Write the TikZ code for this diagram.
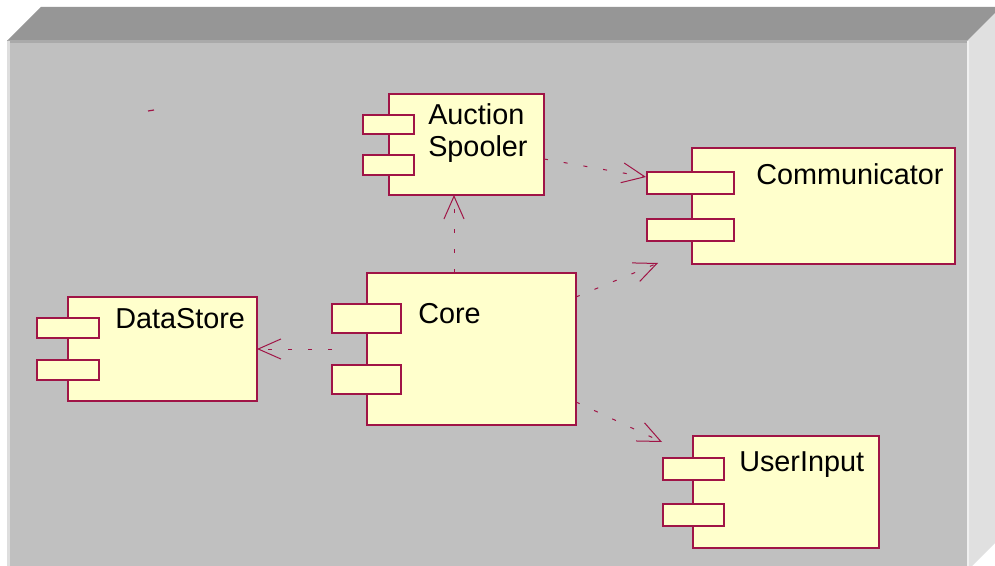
\documentclass[tikz,border=0pt]{standalone}
\usepackage{fontspec}
\setmainfont{Liberation Sans}
\usetikzlibrary{arrows.meta,calc,fit}

\definecolor{crim}{RGB}{160,20,70}
\definecolor{ylw}{RGB}{255,255,204}
\definecolor{topface}{RGB}{150,150,150}
\definecolor{frontface}{RGB}{192,192,192}
\definecolor{sideface}{RGB}{224,224,224}
\definecolor{topband}{RGB}{170,170,170}
\definecolor{leftband}{RGB}{222,222,222}

\tikzset{
  comp/.style={draw=crim, fill=ylw, line width=0.9pt, inner sep=0pt, outer sep=0pt},
  lbl/.style={font=\fontsize{21.6pt}{24pt}\selectfont, inner sep=0pt, text=black},
  dep/.style={draw=crim, line width=0.75pt, dash pattern=on 3pt off 12pt,
              -{Straight Barb[length=17pt, width=15pt]}},
}

\begin{document}
\begin{tikzpicture}[x=0.75pt, y=-0.75pt]
  \useasboundingbox (0,0) rectangle (995,566);
  \clip (0,0) rectangle (995,566);
  \fill[white] (0,0) rectangle (995,566);

  % deployment node: top, side and front faces
  \fill[topface] (7,41) -- (41,7) -- (1003,7) -- (969,41) -- cycle;
  \fill[sideface] (967,41) -- (1003,5) -- (1003,535) -- (967,571) -- cycle;
  \fill[frontface] (7,41) rectangle (967,571);
  \fill[topband] (7,40) rectangle (967,43);
  \fill[leftband] (7,41) rectangle (9.5,571);
  \fill[white!94!black] (966.5,41) rectangle (969,571);

  % AuctionSpooler
  \node[comp, fit={(389,94) (544,195)}] (spool) {};
  \node[comp, fit={(363,115) (414,134)}] (spoolp1) {};
  \node[comp, fit={(363,155) (414,175)}] (spoolp2) {};
  \node[lbl, anchor=base west] (spoolt1) at (428,125) {Auction};
  \node[lbl, anchor=base west] (spoolt2) at (428,157) {Spooler};

  % Communicator
  \node[comp, fit={(692,148) (955,264)}] (comm) {};
  \node[comp, fit={(647,172) (734,194)}] (commp1) {};
  \node[comp, fit={(647,219) (734,241)}] (commp2) {};
  \node[lbl, anchor=base west] (commt) at (756,185) {Communicator};

  % Core
  \node[comp, fit={(367,273) (576,425)}] (core) {};
  \node[comp, fit={(332,304) (401,333)}] (corep1) {};
  \node[comp, fit={(332,365) (401,394)}] (corep2) {};
  \node[lbl, anchor=base west] (coret) at (418,324) {Core};

  % DataStore
  \node[comp, fit={(68,297) (257,401)}] (ds) {};
  \node[comp, fit={(37,318) (99,338)}] (dsp1) {};
  \node[comp, fit={(37,360) (99,380)}] (dsp2) {};
  \node[lbl, anchor=base west] (dst) at (115,329) {DataStore};

  % UserInput
  \node[comp, fit={(693,436) (879,548)}] (ui) {};
  \node[comp, fit={(663,458) (724,480)}] (uip1) {};
  \node[comp, fit={(663,504) (724,526)}] (uip2) {};
  \node[lbl, anchor=base west] (uit) at (739,471) {UserInput};

  % free ends of two dependencies
  \coordinate (toComm) at (658,263);
  \coordinate (toUI) at (662,442);

  % dependencies
  \draw[dep] ($(core.north west)+(87,0)$) -- ($(spool.south west)+(65,0)$);
  \draw[dep] ($(spool.north east)+(0,65)$) -- ($(commp1.north west)+(-1,5)$);
  \draw[dep] ($(core.north east)+(0,24)$) -- (toComm);
  \draw[dep] (corep1.west |- core.west) -- (ds.east);
  \draw[dep] ($(core.south east)+(0,-23)$) -- (toUI);

  % small stray stroke
  \draw[crim, line width=0.9pt] (148,111) -- (154,110);
\end{tikzpicture}
\end{document}
